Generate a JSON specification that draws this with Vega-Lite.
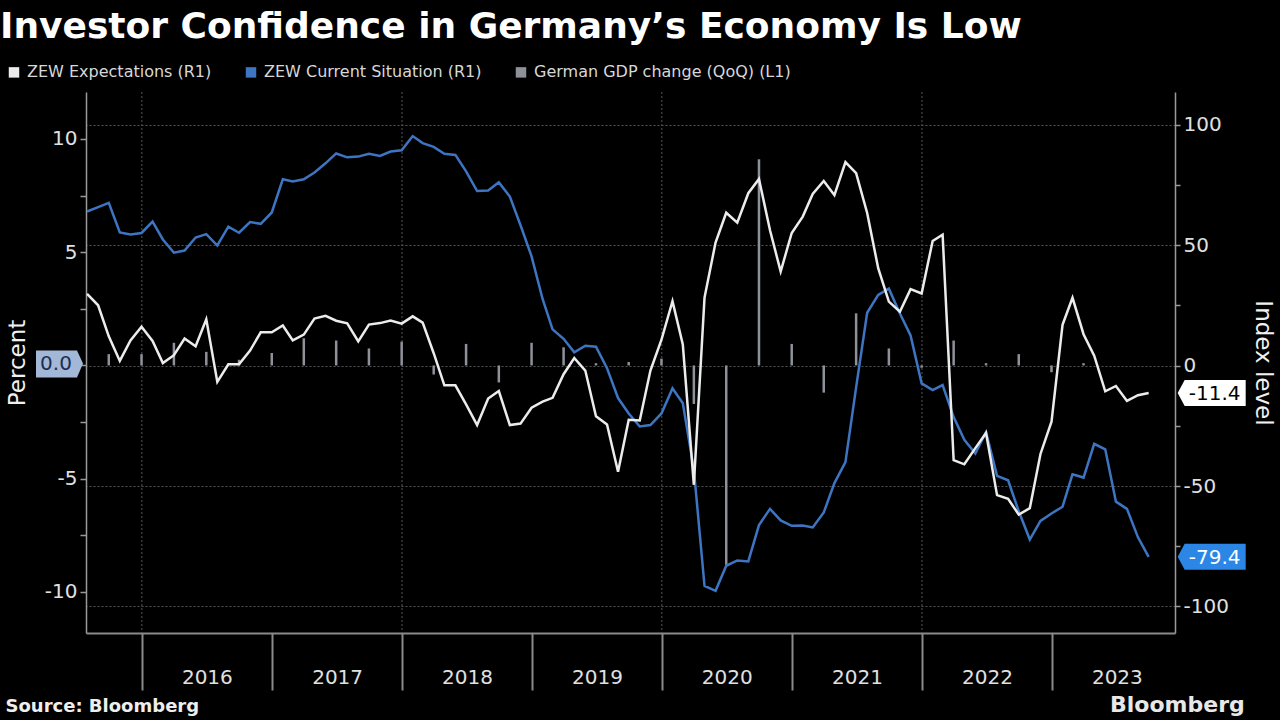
{
  "$schema": "https://vega.github.io/schema/vega-lite/v6.json",
  "width": 1089,
  "height": 541,
  "autosize": {"type": "none"},
  "padding": {"left": 86, "top": 92, "right": 105, "bottom": 87},
  "background": "#000000",
  "config": {
    "view": {"stroke": null},
    "font": "DejaVu Sans",
    "locale": {"number": {"decimal": ".", "thousands": ",", "grouping": [3], "currency": ["$", ""], "minus": "-"}},
    "axis": {"labelFont": "DejaVu Sans", "titleFont": "DejaVu Sans"}
  },
  "title": {
    "text": "Investor Confidence in Germany’s Economy Is Low",
    "anchor": "start",
    "frame": "group",
    "dx": -86,
    "offset": 18,
    "font": "DejaVu Sans",
    "fontSize": 36,
    "fontWeight": "bold",
    "color": "#ffffff"
  },
  "datasets": {
    "zew": [
      {"d": "2015-07-31", "e": 29.7, "c": 63.9},
      {"d": "2015-08-31", "e": 25.0, "c": 65.7},
      {"d": "2015-09-30", "e": 12.1, "c": 67.5},
      {"d": "2015-10-31", "e": 1.9, "c": 55.2},
      {"d": "2015-11-30", "e": 10.4, "c": 54.4},
      {"d": "2015-12-31", "e": 16.1, "c": 55.0},
      {"d": "2016-01-31", "e": 10.2, "c": 59.7},
      {"d": "2016-02-29", "e": 1.0, "c": 52.3},
      {"d": "2016-03-31", "e": 4.3, "c": 46.8},
      {"d": "2016-04-30", "e": 11.2, "c": 47.7},
      {"d": "2016-05-31", "e": 8.0, "c": 53.1},
      {"d": "2016-06-30", "e": 19.2, "c": 54.5},
      {"d": "2016-07-31", "e": -6.8, "c": 49.8},
      {"d": "2016-08-31", "e": 0.5, "c": 57.6},
      {"d": "2016-09-30", "e": 0.5, "c": 55.1},
      {"d": "2016-10-31", "e": 6.2, "c": 59.5},
      {"d": "2016-11-30", "e": 13.8, "c": 58.8},
      {"d": "2016-12-31", "e": 13.8, "c": 63.5},
      {"d": "2017-01-31", "e": 16.6, "c": 77.3},
      {"d": "2017-02-28", "e": 10.4, "c": 76.4},
      {"d": "2017-03-31", "e": 12.8, "c": 77.3},
      {"d": "2017-04-30", "e": 19.5, "c": 80.1},
      {"d": "2017-05-31", "e": 20.6, "c": 83.9},
      {"d": "2017-06-30", "e": 18.6, "c": 88.0},
      {"d": "2017-07-31", "e": 17.5, "c": 86.4},
      {"d": "2017-08-31", "e": 10.0, "c": 86.7},
      {"d": "2017-09-30", "e": 17.0, "c": 87.9},
      {"d": "2017-10-31", "e": 17.6, "c": 87.0},
      {"d": "2017-11-30", "e": 18.7, "c": 88.8},
      {"d": "2017-12-31", "e": 17.4, "c": 89.3},
      {"d": "2018-01-31", "e": 20.4, "c": 95.2},
      {"d": "2018-02-28", "e": 17.8, "c": 92.3},
      {"d": "2018-03-31", "e": 5.1, "c": 90.7},
      {"d": "2018-04-30", "e": -8.2, "c": 87.9},
      {"d": "2018-05-31", "e": -8.2, "c": 87.4},
      {"d": "2018-06-30", "e": -16.1, "c": 80.6},
      {"d": "2018-07-31", "e": -24.7, "c": 72.4},
      {"d": "2018-08-31", "e": -13.7, "c": 72.6},
      {"d": "2018-09-30", "e": -10.6, "c": 76.0},
      {"d": "2018-10-31", "e": -24.7, "c": 70.1},
      {"d": "2018-11-30", "e": -24.1, "c": 58.2},
      {"d": "2018-12-31", "e": -17.5, "c": 45.3},
      {"d": "2019-01-31", "e": -15.0, "c": 27.6},
      {"d": "2019-02-28", "e": -13.4, "c": 15.0},
      {"d": "2019-03-31", "e": -3.6, "c": 11.1},
      {"d": "2019-04-30", "e": 3.1, "c": 5.5},
      {"d": "2019-05-31", "e": -2.1, "c": 8.2},
      {"d": "2019-06-30", "e": -21.1, "c": 7.8},
      {"d": "2019-07-31", "e": -24.5, "c": -1.1},
      {"d": "2019-08-31", "e": -44.1, "c": -13.5},
      {"d": "2019-09-30", "e": -22.5, "c": -19.9},
      {"d": "2019-10-31", "e": -22.8, "c": -25.3},
      {"d": "2019-11-30", "e": -2.1, "c": -24.7},
      {"d": "2019-12-31", "e": 10.7, "c": -19.9},
      {"d": "2020-01-31", "e": 26.7, "c": -9.5},
      {"d": "2020-02-29", "e": 8.7, "c": -15.7},
      {"d": "2020-03-31", "e": -49.5, "c": -43.1},
      {"d": "2020-04-30", "e": 28.2, "c": -91.5},
      {"d": "2020-05-31", "e": 51.0, "c": -93.5},
      {"d": "2020-06-30", "e": 63.4, "c": -83.1},
      {"d": "2020-07-31", "e": 59.3, "c": -80.9},
      {"d": "2020-08-31", "e": 71.5, "c": -81.3},
      {"d": "2020-09-30", "e": 77.4, "c": -66.2},
      {"d": "2020-10-31", "e": 56.1, "c": -59.5},
      {"d": "2020-11-30", "e": 39.0, "c": -64.3},
      {"d": "2020-12-31", "e": 55.0, "c": -66.5},
      {"d": "2021-01-31", "e": 61.8, "c": -66.4},
      {"d": "2021-02-28", "e": 71.2, "c": -67.2},
      {"d": "2021-03-31", "e": 76.6, "c": -61.0},
      {"d": "2021-04-30", "e": 70.7, "c": -48.8},
      {"d": "2021-05-31", "e": 84.4, "c": -40.1},
      {"d": "2021-06-30", "e": 79.8, "c": -9.1},
      {"d": "2021-07-31", "e": 63.3, "c": 21.9},
      {"d": "2021-08-31", "e": 40.4, "c": 29.3},
      {"d": "2021-09-30", "e": 26.5, "c": 31.9},
      {"d": "2021-10-31", "e": 22.3, "c": 21.6},
      {"d": "2021-11-30", "e": 31.7, "c": 12.5},
      {"d": "2021-12-31", "e": 29.9, "c": -7.4},
      {"d": "2022-01-31", "e": 51.7, "c": -10.2},
      {"d": "2022-02-28", "e": 54.3, "c": -8.1},
      {"d": "2022-03-31", "e": -39.3, "c": -21.4},
      {"d": "2022-04-30", "e": -41.0, "c": -30.8},
      {"d": "2022-05-31", "e": -34.3, "c": -36.5},
      {"d": "2022-06-30", "e": -28.0, "c": -27.6},
      {"d": "2022-07-31", "e": -53.8, "c": -45.8},
      {"d": "2022-08-31", "e": -55.3, "c": -47.6},
      {"d": "2022-09-30", "e": -61.9, "c": -60.5},
      {"d": "2022-10-31", "e": -59.2, "c": -72.2},
      {"d": "2022-11-30", "e": -36.7, "c": -64.5},
      {"d": "2022-12-31", "e": -23.3, "c": -61.4},
      {"d": "2023-01-31", "e": 16.9, "c": -58.6},
      {"d": "2023-02-28", "e": 28.1, "c": -45.1},
      {"d": "2023-03-31", "e": 13.0, "c": -46.5},
      {"d": "2023-04-30", "e": 4.1, "c": -32.5},
      {"d": "2023-05-31", "e": -10.7, "c": -34.8},
      {"d": "2023-06-30", "e": -8.5, "c": -56.5},
      {"d": "2023-07-31", "e": -14.7, "c": -59.5},
      {"d": "2023-08-31", "e": -12.3, "c": -71.3},
      {"d": "2023-09-30", "e": -11.4, "c": -79.4}
    ],
    "gdp": [
      {"d": "2015-09-30", "g": 0.5},
      {"d": "2015-12-31", "g": 0.5},
      {"d": "2016-03-31", "g": 1.0},
      {"d": "2016-06-30", "g": 0.6},
      {"d": "2016-09-30", "g": 0.25},
      {"d": "2016-12-31", "g": 0.55},
      {"d": "2017-03-31", "g": 1.2},
      {"d": "2017-06-30", "g": 1.1},
      {"d": "2017-09-30", "g": 0.75},
      {"d": "2017-12-31", "g": 1.05},
      {"d": "2018-03-31", "g": -0.4},
      {"d": "2018-06-30", "g": 0.95},
      {"d": "2018-09-30", "g": -0.75},
      {"d": "2018-12-31", "g": 1.0},
      {"d": "2019-03-31", "g": 0.8},
      {"d": "2019-06-30", "g": 0.1},
      {"d": "2019-09-30", "g": 0.15},
      {"d": "2019-12-31", "g": 0.3},
      {"d": "2020-03-31", "g": -1.7},
      {"d": "2020-06-30", "g": -8.8},
      {"d": "2020-09-30", "g": 9.1},
      {"d": "2020-12-31", "g": 0.95},
      {"d": "2021-03-31", "g": -1.2},
      {"d": "2021-06-30", "g": 2.3},
      {"d": "2021-09-30", "g": 0.75},
      {"d": "2021-12-31", "g": -0.1},
      {"d": "2022-03-31", "g": 1.1},
      {"d": "2022-06-30", "g": 0.1},
      {"d": "2022-09-30", "g": 0.5},
      {"d": "2022-12-31", "g": -0.3},
      {"d": "2023-03-31", "g": 0.1},
      {"d": "2023-06-30", "g": 0.0}
    ]
  },
  "layer": [
    {
      "layer": [
        {
          "data": {"values": [{"d": "2016-01-01"}, {"d": "2018-01-01"}, {"d": "2020-01-01"}, {"d": "2022-01-01"}]},
          "mark": {"type": "rule", "color": "#555555", "strokeDash": [2, 2], "strokeWidth": 1},
          "encoding": {
            "x": {"field": "d", "type": "temporal", "scale": {"type": "utc", "domain": [{"year": 2015, "month": 7, "date": 28, "utc": true}, {"year": 2023, "month": 12, "date": 13, "utc": true}]}}
          }
        },
        {
          "data": {"name": "gdp"},
          "mark": {"type": "rule", "strokeWidth": 2.5},
          "encoding": {
            "x": {
              "field": "d", "type": "temporal",
              "scale": {"type": "utc", "domain": [{"year": 2015, "month": 7, "date": 28, "utc": true}, {"year": 2023, "month": 12, "date": 13, "utc": true}]},
              "axis": {
                "values": [
                  {"year": 2016, "month": 1, "date": 1, "utc": true},
                  {"year": 2017, "month": 1, "date": 1, "utc": true},
                  {"year": 2018, "month": 1, "date": 1, "utc": true},
                  {"year": 2019, "month": 1, "date": 1, "utc": true},
                  {"year": 2020, "month": 1, "date": 1, "utc": true},
                  {"year": 2021, "month": 1, "date": 1, "utc": true},
                  {"year": 2022, "month": 1, "date": 1, "utc": true},
                  {"year": 2023, "month": 1, "date": 1, "utc": true}
                ],
                "format": "%Y",
                "labelOffset": 65,
                "labelPadding": -13,
                "labelBaseline": "middle",
                "labelFontSize": 20,
                "labelColor": "#e0e0e0",
                "labelFlush": false,
                "labelOverlap": false,
                "tickSize": 57,
                "tickColor": "#8a8a8a",
                "tickWidth": 2,
                "domainColor": "#8a8a8a",
                "domainWidth": 2,
                "grid": false,
                "title": "Source: Bloomberg",
                "titleX": -81,
                "titleY": 78,
                "titleAnchor": "start",
                "titleAlign": "left",
                "titleBaseline": "alphabetic",
                "titleFontSize": 18,
                "titleFontWeight": "bold",
                "titleColor": "#eeeeee"
              }
            },
            "y": {
              "field": "g", "type": "quantitative",
              "scale": {"domain": [-11.81, 12.07], "nice": false, "zero": false},
              "axis": {
                "orient": "left",
                "values": [-10, -7.5, -5, -2.5, 0, 2.5, 5, 7.5, 10],
                "labelExpr": "datum.value % 5 === 0 && datum.value !== 0 ? datum.label : ''",
                "format": "d",
                "title": "Percent",
                "titleX": -69,
                "titleFontSize": 23,
                "titleFontWeight": "normal",
                "titleColor": "#f0f0f0",
                "titleBaseline": "middle",
                "grid": false,
                "domainColor": "#9a9a9a",
                "domainWidth": 1.5,
                "tickColor": "#9a9a9a",
                "tickSize": 6,
                "tickWidth": 1.5,
                "labelColor": "#e0e0e0",
                "labelFontSize": 20,
                "labelPadding": 3
              }
            },
            "y2": {"datum": 0},
            "color": {
              "datum": "g",
              "scale": {"domain": ["e", "c", "g"], "range": ["#ececec", "#3d75c2", "#8e9199"]},
              "legend": {
                "orient": "none", "legendX": -80, "legendY": -28, "direction": "horizontal", "title": null,
                "symbolType": "square", "symbolSize": 20, "symbolStrokeWidth": 6, "symbolOpacity": 1,
                "labelFontSize": 16, "labelColor": "#d8d8d8", "labelFont": "DejaVu Sans", "labelLimit": 0,
                "columnPadding": 24, "labelOffset": 5, "padding": 0,
                "labelExpr": "datum.value === 'e' ? 'ZEW Expectations (R1)' : datum.value === 'c' ? 'ZEW Current Situation (R1)' : 'German GDP change (QoQ) (L1)'"
              }
            }
          }
        },
        {
          "data": {"name": "gdp"},
          "transform": [{"filter": {"field": "d", "equal": {"year": 2023, "month": 6, "date": 30, "utc": true}}}],
          "mark": {"type": "point", "shape": "M-0.3,-0.2L-0.9,-1.5L-5.0,-1.5L-5.0,1.2L-0.9,1.2Z", "size": 400, "filled": true, "opacity": 1, "color": "#a3b7d6", "strokeWidth": 0},
          "encoding": {
            "x": {"datum": {"year": 2015, "month": 7, "date": 28, "utc": true}, "type": "temporal"},
            "y": {"field": "g", "type": "quantitative"}
          }
        },
        {
          "data": {"name": "gdp"},
          "transform": [{"filter": {"field": "d", "equal": {"year": 2023, "month": 6, "date": 30, "utc": true}}}],
          "mark": {"type": "text", "align": "center", "baseline": "middle", "dx": -30, "dy": -1, "fontSize": 20, "color": "#1c2e54"},
          "encoding": {
            "x": {"datum": {"year": 2015, "month": 7, "date": 28, "utc": true}, "type": "temporal"},
            "y": {"field": "g", "type": "quantitative"},
            "text": {"field": "g", "type": "quantitative", "format": ".1f"}
          }
        }
      ]
    },
    {
      "data": {"name": "zew"},
      "transform": [{"fold": ["c", "e"], "as": ["series", "value"]}],
      "layer": [
        {
          "mark": {"type": "line", "strokeWidth": 2.5},
          "encoding": {
            "x": {"field": "d", "type": "temporal", "scale": {"type": "utc", "domain": [{"year": 2015, "month": 7, "date": 28, "utc": true}, {"year": 2023, "month": 12, "date": 13, "utc": true}]}},
            "y": {
              "field": "value", "type": "quantitative",
              "scale": {"domain": [-111.0, 113.5], "nice": false, "zero": false},
              "axis": {
                "orient": "right",
                "values": [-100, -75, -50, -25, 0, 25, 50, 75, 100],
                "labelExpr": "datum.value % 50 === 0 ? datum.label : ''",
                "format": "d",
                "title": "Index level",
                "titleX": 87,
                "titleFontSize": 23,
                "titleFontWeight": "normal",
                "titleColor": "#f0f0f0",
                "titleBaseline": "middle",
                "grid": true,
                "gridDash": [2, 2],
                "gridColor": "#555555",
                "gridWidth": 1,
                "gridOpacity": {"condition": {"test": "datum.value % 50 === 0", "value": 1}, "value": 0},
                "domainColor": "#9a9a9a",
                "domainWidth": 1.5,
                "tickColor": "#9a9a9a",
                "tickSize": 5,
                "tickWidth": 1.5,
                "labelColor": "#e0e0e0",
                "labelFontSize": 20,
                "labelPadding": 3
              }
            },
            "color": {
              "field": "series", "type": "nominal",
              "scale": {"domain": ["e", "c", "g"], "range": ["#ececec", "#3d75c2", "#8e9199"]},
              "legend": {
                "orient": "none", "legendX": -80, "legendY": -28, "direction": "horizontal", "title": null,
                "symbolType": "square", "symbolSize": 20, "symbolStrokeWidth": 6, "symbolOpacity": 1,
                "labelFontSize": 16, "labelColor": "#d8d8d8", "labelFont": "DejaVu Sans", "labelLimit": 0,
                "columnPadding": 24, "labelOffset": 5, "padding": 0,
                "labelExpr": "datum.value === 'e' ? 'ZEW Expectations (R1)' : datum.value === 'c' ? 'ZEW Current Situation (R1)' : 'German GDP change (QoQ) (L1)'"
              }
            }
          }
        },
        {
          "transform": [{"filter": {"field": "d", "equal": {"year": 2023, "month": 9, "date": 30, "utc": true}}}],
          "mark": {"type": "point", "shape": "M2.9,0L3.6,-1.3L9.7,-1.3L9.7,1.3L3.6,1.3Z", "size": 400, "filled": true, "opacity": 1, "strokeWidth": 0},
          "encoding": {
            "x": {"field": "d", "type": "temporal"},
            "y": {"field": "value", "type": "quantitative"},
            "color": {"condition": {"test": "datum.series === 'e'", "value": "#ffffff"}, "value": "#2b86e6"}
          }
        },
        {
          "transform": [{"filter": {"field": "d", "equal": {"year": 2023, "month": 9, "date": 30, "utc": true}}}],
          "mark": {"type": "text", "align": "center", "baseline": "middle", "dx": 66, "dy": 1, "fontSize": 20},
          "encoding": {
            "x": {"field": "d", "type": "temporal"},
            "y": {"field": "value", "type": "quantitative"},
            "text": {"field": "value", "type": "quantitative", "format": ".1f"},
            "color": {"condition": {"test": "datum.series === 'e'", "value": "#000000"}, "value": "#ffffff"}
          }
        },
        {
          "data": {"values": [{"t": "Bloomberg"}]},
          "mark": {"type": "text", "align": "right", "baseline": "alphabetic", "fontSize": 22, "fontWeight": "bold", "color": "#e8e8e8"},
          "encoding": {
            "x": {"datum": {"year": 2024, "month": 6, "date": 26, "utc": true}, "type": "temporal"},
            "y": {"datum": -143.8, "type": "quantitative"},
            "text": {"field": "t", "type": "nominal"}
          }
        }
      ]
    }
  ],
  "resolve": {"scale": {"y": "independent"}}
}
